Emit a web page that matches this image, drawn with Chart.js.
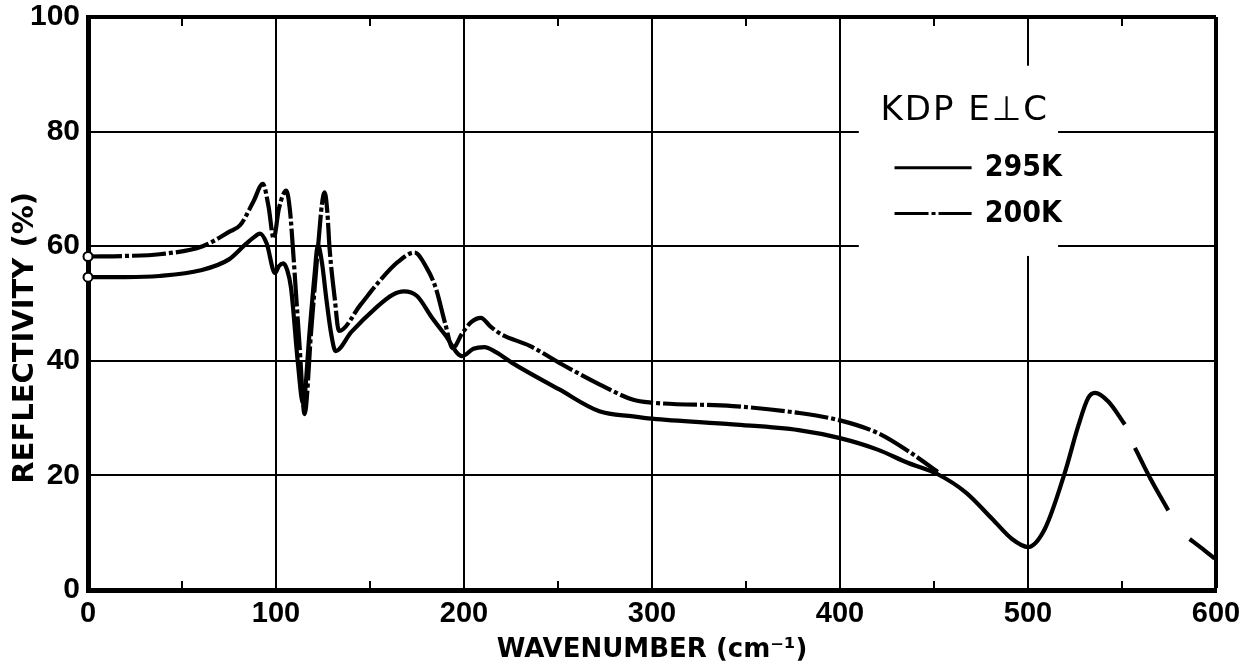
<!DOCTYPE html>
<html><head><meta charset="utf-8">
<script src="https://cdn.jsdelivr.net/npm/chart.js@4/dist/chart.umd.min.js"></script>
<style>html,body{margin:0;padding:0;background:#fff}#wrap{width:1259px;height:669px}</style>
</head><body><div id="wrap"><canvas id="c" width="1259" height="669"></canvas></div>
<script>
// ---- data ----
const wave295 = [0, 20, 38, 60, 75, 84, 88, 91.5, 95, 99.5, 101.5, 103.8, 106, 108, 111.7, 114.4, 117.9, 120.5, 122.3, 124.5, 126.7, 129.4, 131.7, 140, 153, 162, 168, 175, 183, 190, 199, 205, 210.8, 217, 225.8, 250.7, 272, 290, 300, 343, 378, 400, 420, 436, 452, 467, 481, 491.5, 500, 509, 519.6, 526.7, 532, 535.6, 542.7, 551.5, 554, 556.9, 565, 574.6, 580, 586, 592, 599.3];
const refl295 = [54.6, 54.6, 54.8, 55.8, 57.7, 60.4, 61.5, 62.2, 60.5, 55.3, 56.5, 57, 55.8, 52.7, 39.4, 32.5, 45.2, 55, 60.2, 57, 51, 44.6, 41.7, 45, 49.2, 51.5, 52.1, 51.3, 47.5, 44.5, 40.8, 42.1, 42.4, 41.5, 39.6, 35, 31.2, 30.3, 29.9, 28.9, 27.9, 26.5, 24.5, 22.2, 20.2, 17, 12.4, 8.9, 7.5, 10.7, 20.5, 28.6, 33.5, 34.4, 32.9, 28.9, null, 24.8, 19.5, 13.9, null, 8.9, 7.4, 5.5];
const wave200 = [0, 20, 38, 61, 75, 81, 88, 93, 96, 98.8, 101.5, 105.5, 107.5, 109, 112.6, 115.2, 118.7, 122.3, 124.5, 125.9, 127.3, 128.5, 131.2, 133.5, 145, 155, 165, 173.7, 180, 185, 190, 194, 199, 204, 209, 214, 220, 235, 252, 272, 290, 300, 343, 378, 400, 420, 436, 452];
const refl200 = [58.2, 58.3, 58.6, 60, 62.5, 63.7, 67.8, 70.9, 67, 61.3, 66.5, 69.7, 66, 59.6, 42.3, 30.7, 45.2, 59.6, 67.5, 69.4, 66, 59.6, 51, 45.2, 49.8, 53.9, 57.3, 58.9, 56.3, 52.7, 46.5, 42.2, 44.8, 46.8, 47.5, 46, 44.6, 42.6, 39.4, 35.9, 33.2, 32.7, 32.1, 30.9, 29.6, 27.4, 24.3, 20.6];
const xTicks = [0, 100, 200, 300, 400, 500, 600];
const yTicks = [0, 20, 40, 60, 80, 100];
const minorXTicks = [50, 150, 250, 350, 450, 550];
const seriesLabels = ['295K', '200K'];
const legendTitle = 'KDP E\u22A5C';
const xTitle = 'WAVENUMBER (cm\u207B\u00B9)';
const yTitle = 'REFLECTIVITY (%)';

const dash200 = [34, 3, 4, 3];
const toXY = (xs, ys) => xs.map((v, i) => ({x: v, y: ys[i]}));

const decor = {
  id: 'decor',
  afterDraw(chart) {
    const {ctx, chartArea: ca, scales: {x, y}} = chart;
    ctx.save();
    // minor tick marks on top and bottom frame
    ctx.strokeStyle = '#000'; ctx.lineWidth = 2;
    minorXTicks.forEach(v => {
      const px = x.getPixelForValue(v);
      ctx.beginPath();
      ctx.moveTo(px, ca.bottom); ctx.lineTo(px, ca.bottom - 9);
      ctx.moveTo(px, ca.top); ctx.lineTo(px, ca.top + 9);
      ctx.stroke();
    });
    // y axis title
    ctx.save();
    ctx.translate(25, y.getPixelForValue(44));
    ctx.rotate(-Math.PI / 2);
    ctx.fillStyle = '#000';
    ctx.font = "bold 29px 'DejaVu Sans'";
    ctx.textAlign = 'center'; ctx.textBaseline = 'middle';
    ctx.fillText(yTitle, 0, 0);
    ctx.restore();
    // legend box (white mask over grid)
    const lx0 = x.getPixelForValue(410), lx1 = x.getPixelForValue(516);
    const ly0 = y.getPixelForValue(91.5), ly1 = y.getPixelForValue(58.3);
    ctx.fillStyle = '#fff';
    ctx.fillRect(lx0, ly0, lx1 - lx0, ly1 - ly0);
    ctx.fillStyle = '#000';
    ctx.textAlign = 'left'; ctx.textBaseline = 'middle';
    ctx.font = "34px 'DejaVu Sans'";
    ctx.letterSpacing = '2px';
    ctx.fillText(legendTitle, x.getPixelForValue(421.5), y.getPixelForValue(83.6));
    ctx.letterSpacing = '0px';
    ctx.font = "bold 30px 'DejaVu Sans Condensed', 'DejaVu Sans'";
    const rows = [{lbl: seriesLabels[0], v: 73.7, dash: []}, {lbl: seriesLabels[1], v: 65.7, dash: dash200}];
    rows.forEach(r => {
      const py = y.getPixelForValue(r.v);
      ctx.setLineDash(r.dash);
      ctx.lineWidth = 3;
      ctx.beginPath();
      ctx.moveTo(x.getPixelForValue(429), py);
      ctx.lineTo(x.getPixelForValue(470), py);
      ctx.stroke();
      ctx.setLineDash([]);
      ctx.fillText(r.lbl, x.getPixelForValue(477), py + 1);
    });
    ctx.restore();
  }
};

const pointR = c => c.dataIndex === 0 ? 4.5 : 0;
const noPad = s => { s.paddingTop = 0; s.paddingBottom = 0; s.paddingLeft = 0; s.paddingRight = 0; };

new Chart(document.getElementById('c'), {
  type: 'line',
  data: {
    datasets: [
      {label: seriesLabels[0], data: toXY(wave295, refl295), borderColor: '#000', borderWidth: 4.2,
       cubicInterpolationMode: 'monotone', spanGaps: false, pointRadius: pointR, clip: false,
       pointBackgroundColor: '#fff', pointBorderColor: '#000', pointBorderWidth: 2},
      {label: seriesLabels[1], data: toXY(wave200, refl200), borderColor: '#000', borderWidth: 4.2,
       borderDash: dash200, cubicInterpolationMode: 'monotone', pointRadius: pointR, clip: false,
       pointBackgroundColor: '#fff', pointBorderColor: '#000', pointBorderWidth: 2}
    ]
  },
  options: {
    responsive: false, animation: false, devicePixelRatio: 1,
    layout: {padding: {top: 17, right: 43, left: 0, bottom: 0}},
    plugins: {legend: {display: false}, tooltip: {enabled: false}},
    scales: {
      x: {
        type: 'linear', min: 0, max: 600,
        afterBuildTicks: s => { s.ticks = xTicks.map(v => ({value: v})); },
        afterFit: s => { s.height = 79; noPad(s); },
        grid: {color: '#000', lineWidth: c => (c.tick && c.tick.value === 600) ? 4 : 2, drawTicks: false},
        border: {display: true, color: '#000', width: 5},
        ticks: {color: '#000', padding: 7, font: {family: 'Liberation Sans', weight: 'bold', size: 29}},
        title: {display: true, text: xTitle, color: '#000', padding: {top: 0, bottom: 3},
                font: {family: 'DejaVu Sans', weight: 'bold', size: 26, lineHeight: 1.2}}
      },
      y: {
        type: 'linear', min: 0, max: 100,
        afterBuildTicks: s => { s.ticks = yTicks.map(v => ({value: v})); },
        afterFit: s => { s.width = 88; noPad(s); },
        grid: {color: '#000', lineWidth: c => (c.tick && c.tick.value === 100) ? 4 : 2, drawTicks: false},
        border: {display: true, color: '#000', width: 5},
        ticks: {color: '#000', padding: 8, font: {family: 'Liberation Sans', weight: 'bold', size: 30}}
      }
    }
  },
  plugins: [decor]
});
</script></body></html>
